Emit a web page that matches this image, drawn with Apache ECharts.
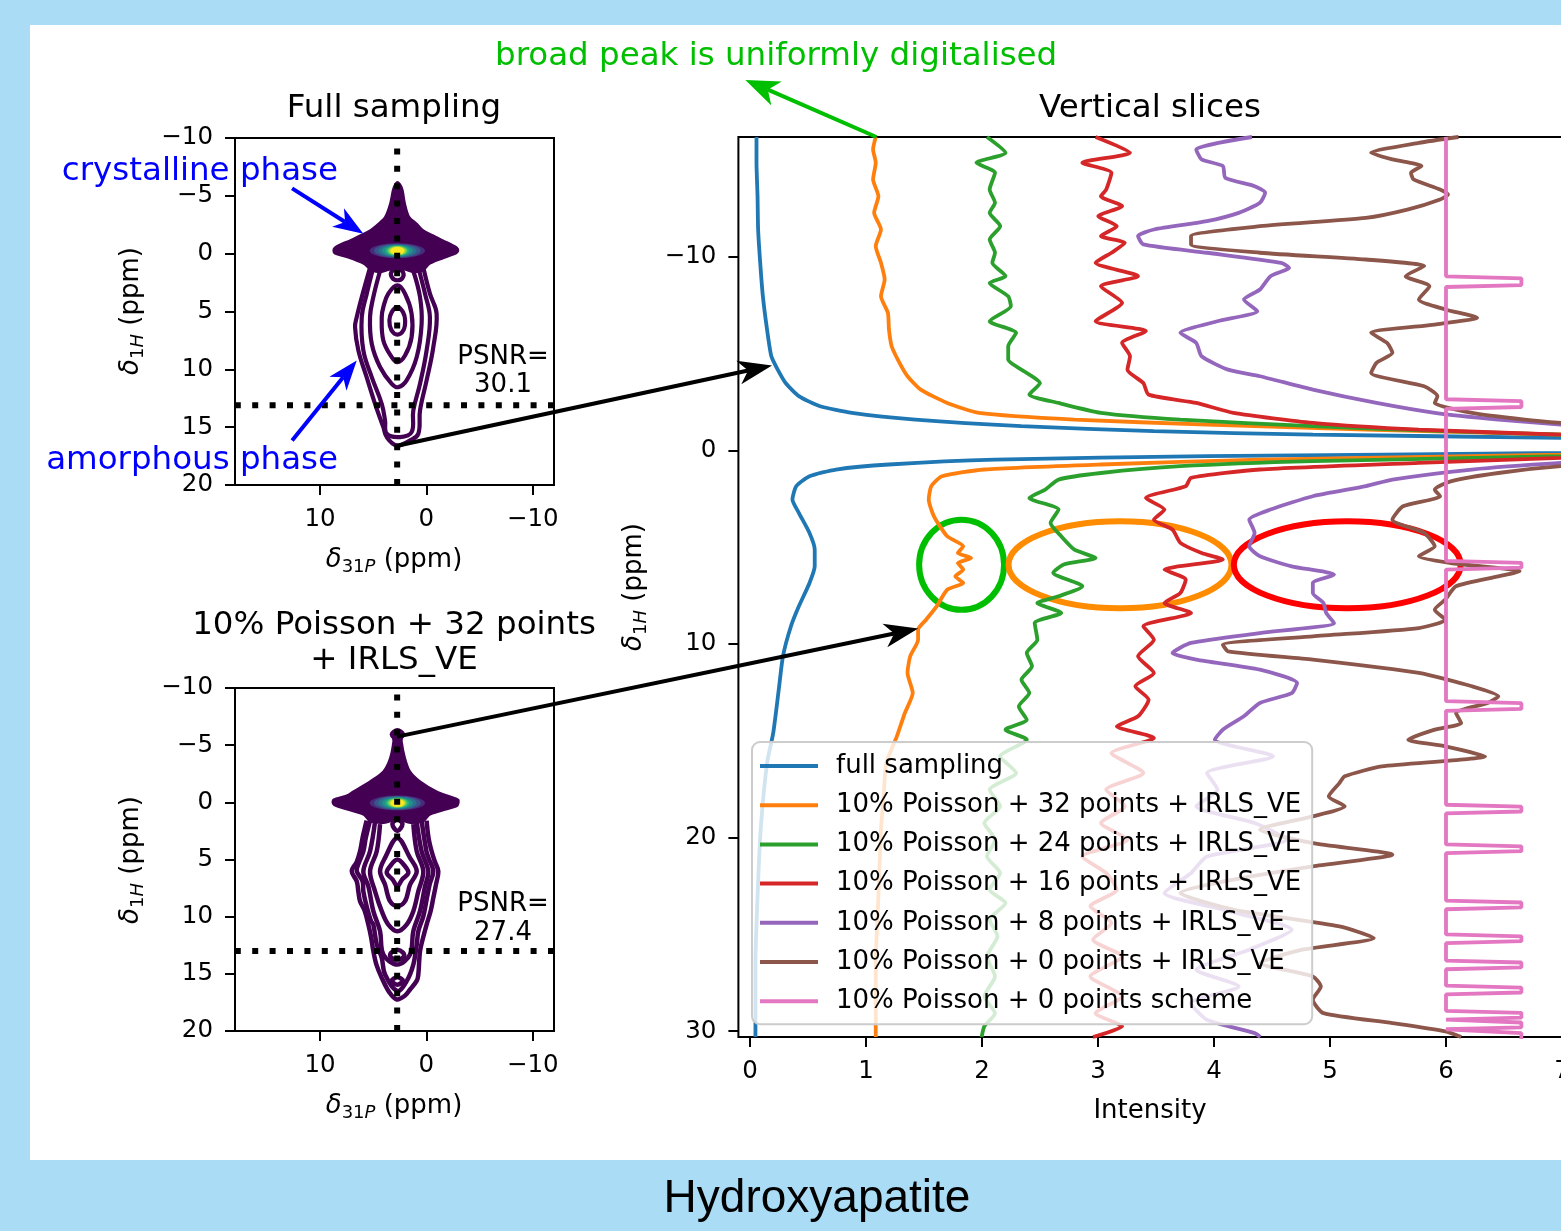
<!DOCTYPE html>
<html><head><meta charset="utf-8">
<script src="https://cdn.jsdelivr.net/npm/echarts@6/dist/echarts.min.js"></script>
<style>html,body{margin:0;padding:0;background:#aadcf5;}#c{width:1561px;height:1231px;}</style>
</head><body><div id="c"></div>
<script>
const FONT = "'DejaVu Sans', sans-serif";

// ---------- right panel: vertical slices [intensity, delta 1H ppm] ----------
const fullSampling = [[0.056,-16.2],[0.056,-14.87],[0.065,-13.14],[0.070,-11.42],[0.088,-9.70],[0.111,-7.97],[0.147,-6.25],[0.184,-4.87],[0.239,-4.18],[0.307,-3.49],[0.421,-2.81],[0.604,-2.29],[0.878,-1.95],[1.426,-1.60],[2.340,-1.26],[3.482,-1.00],[4.852,-0.82],[6.990,-0.65],[9.5,-0.25],[6.990,0.12],[3.939,0.29],[2.112,0.47],[1.198,0.72],[0.741,0.98],[0.513,1.33],[0.399,1.84],[0.366,2.53],[0.421,3.22],[0.513,4.26],[0.558,5.12],[0.558,5.98],[0.513,6.84],[0.421,8.05],[0.353,9.08],[0.284,10.63],[0.248,12.35],[0.200,14.6],[0.147,16.14],[0.092,19.59],[0.065,23.04],[0.047,26.48],[0.047,30.3]];
const poisson32 = [[1.084,-16.2],[1.061,-15.56],[1.084,-14.87],[1.061,-14.01],[1.107,-13.14],[1.070,-12.28],[1.129,-11.42],[1.084,-10.56],[1.129,-9.70],[1.161,-8.84],[1.129,-7.97],[1.189,-7.11],[1.198,-6.25],[1.221,-5.39],[1.289,-4.53],[1.358,-3.84],[1.472,-3.15],[1.700,-2.46],[1.974,-1.95],[2.797,-1.60],[3.939,-1.34],[5.309,-1.08],[6.990,-0.82],[9.5,-0.25],[6.990,0.21],[4.396,0.47],[3.025,0.72],[2.020,0.98],[1.655,1.33],[1.563,1.84],[1.541,2.53],[1.586,3.40],[1.700,4.43],[1.838,4.95],[1.792,5.29],[1.906,5.55],[1.792,5.81],[1.838,6.15],[1.770,6.50],[1.838,6.84],[1.700,7.19],[1.609,8.05],[1.518,8.74],[1.449,9.25],[1.449,9.77],[1.381,10.63],[1.358,11.49],[1.403,12.53],[1.335,13.56],[1.266,14.77],[1.175,16.14],[1.152,17.87],[1.129,19.59],[1.107,23.04],[1.084,26.48],[1.084,30.3]];
const poisson24 = [[2.043,-16.2],[2.203,-15.38],[1.952,-14.87],[2.112,-14.35],[2.066,-13.49],[2.112,-12.80],[2.066,-12.28],[2.157,-11.59],[2.066,-10.90],[2.112,-10.22],[2.089,-9.70],[2.203,-9.01],[2.066,-8.66],[2.226,-7.97],[2.249,-7.46],[2.066,-6.68],[2.294,-6.08],[2.226,-5.39],[2.226,-4.70],[2.386,-4.01],[2.500,-3.49],[2.408,-2.89],[2.660,-2.46],[3.025,-1.95],[3.710,-1.60],[4.852,-1.26],[5.994,-1.00],[6.990,-0.82],[9.5,-0.25],[6.990,0.29],[4.852,0.55],[3.710,0.81],[3.025,1.16],[2.660,1.50],[2.545,2.02],[2.408,2.45],[2.660,3.05],[2.591,3.74],[2.683,4.43],[2.797,5.12],[2.979,5.55],[2.705,5.89],[2.614,6.32],[2.865,7.01],[2.660,7.53],[2.477,7.88],[2.683,8.39],[2.454,8.91],[2.477,9.77],[2.386,10.46],[2.431,11.15],[2.340,11.84],[2.408,12.53],[2.317,13.22],[2.386,13.91],[2.203,14.42],[2.386,14.94],[2.157,15.80],[2.294,16.66],[2.066,17.52],[2.157,18.38],[2.020,19.24],[2.112,20.11],[2.043,20.97],[2.157,21.83],[2.066,22.69],[2.203,23.38],[2.066,24.24],[2.134,25.10],[2.043,26.14],[2.112,27.17],[2.020,28.20],[2.112,29.07],[2.020,29.75],[1.997,30.3]];
const poisson16 = [[2.979,-16.2],[3.276,-15.38],[2.865,-14.87],[3.116,-14.35],[3.071,-13.49],[3.025,-13.14],[3.208,-12.63],[3.002,-12.11],[3.162,-11.59],[3.025,-11.08],[3.231,-10.73],[3.116,-10.22],[2.979,-9.70],[3.345,-9.01],[3.025,-8.49],[3.208,-7.63],[2.979,-6.68],[3.413,-6.17],[3.208,-5.56],[3.276,-4.87],[3.254,-4.18],[3.391,-3.49],[3.436,-2.89],[3.847,-2.46],[4.167,-1.95],[4.852,-1.43],[5.766,-1.08],[6.990,-0.82],[9.5,-0.25],[6.990,0.38],[5.766,0.64],[4.396,0.98],[3.802,1.41],[3.756,1.84],[3.413,2.45],[3.573,3.05],[3.482,3.57],[3.642,4.08],[3.710,4.77],[3.893,5.29],[4.076,5.63],[3.573,6.15],[3.756,6.67],[3.710,7.36],[3.573,7.88],[3.802,8.39],[3.391,9.08],[3.482,9.77],[3.345,10.63],[3.482,11.49],[3.322,12.18],[3.436,12.87],[3.345,13.73],[3.162,14.25],[3.482,14.85],[3.116,15.63],[3.391,16.66],[3.071,17.52],[3.231,18.38],[3.025,19.24],[3.254,20.11],[2.865,20.97],[3.071,21.83],[3.162,22.69],[2.934,23.55],[3.116,24.41],[2.957,25.27],[3.208,26.14],[2.934,27.17],[3.208,28.20],[2.979,29.07],[3.208,29.75],[2.957,30.3]];
const poisson8 = [[4.327,-16.2],[3.847,-15.56],[3.893,-15.04],[4.076,-14.70],[4.098,-14.09],[4.350,-13.66],[4.441,-13.32],[4.396,-12.80],[4.213,-12.28],[3.939,-11.85],[3.482,-11.42],[3.345,-11.08],[3.391,-10.65],[3.939,-10.22],[4.578,-9.70],[4.647,-9.44],[4.487,-9.01],[4.396,-8.32],[4.258,-7.80],[4.373,-7.20],[4.030,-6.68],[3.710,-6.08],[3.847,-5.56],[3.893,-4.87],[4.121,-4.18],[4.396,-3.84],[4.852,-3.15],[5.401,-2.46],[5.903,-1.95],[6.451,-1.60],[6.990,-1.34],[9.5,-0.25],[6.990,0.64],[6.223,0.98],[5.538,1.50],[5.309,1.84],[4.852,2.36],[4.487,3.05],[4.304,3.57],[4.350,4.26],[4.304,4.95],[4.396,5.46],[4.670,5.98],[5.035,6.41],[4.852,6.84],[4.852,7.36],[4.944,7.88],[4.967,8.39],[5.035,8.91],[4.396,9.43],[3.802,9.94],[3.642,10.46],[3.847,10.80],[4.396,11.32],[4.716,12.01],[4.670,12.53],[4.396,13.04],[4.258,13.73],[4.076,14.42],[4.007,14.94],[4.510,15.80],[3.939,16.66],[4.030,17.52],[3.847,18.38],[4.350,19.24],[4.624,20.11],[3.939,20.97],[3.802,21.83],[3.573,22.86],[4.076,23.72],[4.670,24.76],[4.304,25.79],[3.847,26.83],[4.213,27.69],[3.802,28.55],[3.939,29.41],[4.350,30.1],[4.4,30.3]];
const poisson0 = [[6.108,-16.2],[5.766,-15.90],[5.355,-15.38],[5.538,-15.04],[5.789,-14.70],[5.698,-14.35],[5.720,-14.01],[5.949,-13.49],[6.017,-13.23],[5.949,-12.97],[5.675,-12.46],[5.309,-12.02],[4.396,-11.59],[3.802,-11.08],[3.802,-10.65],[4.396,-10.22],[5.309,-9.87],[5.812,-9.53],[5.652,-9.01],[5.857,-8.49],[5.766,-7.80],[5.994,-7.29],[6.268,-6.86],[5.903,-6.51],[5.355,-6.08],[5.492,-5.56],[5.538,-5.05],[5.401,-4.53],[5.355,-4.01],[5.812,-3.32],[5.926,-2.81],[5.903,-2.46],[6.223,-1.95],[6.680,-1.60],[6.990,-1.43],[9.5,-0.25],[6.990,0.81],[6.451,1.16],[6.040,1.59],[5.903,2.02],[5.949,2.36],[5.629,2.88],[5.538,3.57],[5.812,4.26],[5.903,4.95],[5.766,5.46],[6.040,5.81],[6.634,6.24],[6.451,6.50],[6.086,7.01],[5.994,7.70],[5.903,8.22],[5.994,8.74],[5.766,9.17],[4.852,9.60],[4.076,10.03],[4.121,10.37],[4.852,10.80],[5.766,11.49],[6.223,12.18],[6.451,12.70],[6.360,13.04],[6.086,13.56],[6.131,14.08],[5.903,14.42],[5.675,14.94],[5.994,15.28],[6.337,15.80],[5.446,16.32],[5.127,16.83],[5.081,17.18],[4.989,17.87],[5.127,18.38],[4.852,18.90],[4.396,19.59],[4.852,20.28],[5.538,20.88],[4.852,21.48],[4.167,22.17],[3.710,22.86],[4.167,23.72],[5.081,24.59],[5.378,25.19],[4.761,25.79],[4.396,26.48],[4.852,27.17],[4.921,27.69],[4.852,28.38],[4.944,29.07],[5.538,29.58],[5.994,30.01],[6.131,30.3]];
const scheme0 = [[6,-16.2],[6,-9.0],[6.65,-8.9],[6.65,-8.55],[6,-8.45],[6,-2.65],[6.65,-2.55],[6.65,-2.25],[6,-2.15],[6,5.7],[6.65,5.8],[6.65,6.05],[6,6.15],[6,12.95],[6.65,13.05],[6.65,13.35],[6,13.45],[6,18.3],[6.65,18.4],[6.65,18.65],[6,18.75],[6,20.35],[6.65,20.45],[6.65,20.7],[6,20.8],[6,23.25],[6.65,23.35],[6.65,23.6],[6,23.7],[6,25.0],[6.65,25.1],[6.65,25.35],[6,25.45],[6,26.35],[6.65,26.45],[6.65,26.7],[6,26.8],[6,27.65],[6.65,27.75],[6.65,28.0],[6,28.1],[6,28.95],[6.65,29.05],[6.65,29.3],[6,29.4],[6,29.45],[6.65,29.55],[6.65,29.8],[6,29.9],[6,30.0],[6.65,30.1],[6.65,30.4]];

const sliceNames = ['full sampling','10% Poisson + 32 points + IRLS_VE','10% Poisson + 24 points + IRLS_VE','10% Poisson + 16 points + IRLS_VE','10% Poisson + 8 points + IRLS_VE','10% Poisson + 0 points + IRLS_VE','10% Poisson + 0 points scheme'];
const sliceColors = ['#1f77b4','#ff7f0e','#2ca02c','#d62728','#9467bd','#8c564b','#e377c2'];
const sliceData = [fullSampling, poisson32, poisson24, poisson16, poisson8, poisson0, scheme0];
const intensityTicks = [0,1,2,3,4,5,6,7];
const h1TicksRight = [-10,0,10,20,30];
const p31TicksLeft = [10,0,-10];
const h1TicksLeft = [-10,-5,0,5,10,15,20];

// highlighted regions in the slice panel [intensity centre, ppm centre, intensity half-width, ppm half-height]
const highlightEllipses = [[1.824,5.9,0.366,2.33],[3.19,5.9,0.961,2.25],[5.149,5.9,0.978,2.25]];
const highlightColors = ['#00bf00','#ff8c00','#ff0000'];

// ---------- left panels: 2D spectra contours [delta 31P, delta 1H] ----------
const topStar = [[2.73,-6.2],[2.4,-5.9],[2.23,-5.48],[2.01,-4.32],[1.61,-3.17],[0.9,-2.59],[0.29,-2.01],[-0.65,-1.58],[-1.56,-1.15],[-2.22,-0.86],[-2.84,-0.56],[-3.0,-0.3],[-2.84,-0.05],[-1.9,0.29],[-0.33,0.86],[0.29,1.44],[1.2,1.6],[2.0,1.4],[2.73,1.3],[3.5,1.4],[4.3,1.6],[5.14,1.44],[5.93,0.86],[7.5,0.29],[8.6,0.0],[8.75,-0.3],[8.59,-0.56],[7.96,-0.86],[7.19,-1.15],[6.25,-1.58],[5.3,-2.01],[4.52,-2.59],[3.89,-3.17],[3.42,-4.32],[3.16,-5.48],[3.0,-5.9]];
const topC1 = [[5.30,1.2],[6.00,3.5],[6.55,5.48],[6.71,6.35],[6.40,8.36],[5.62,10.67],[4.83,12.98],[4.05,15.0],[3.73,15.86],[2.79,16.58],[1.54,16.15],[0.76,15.57],[0.60,13.55],[-0.02,10.96],[-0.65,8.08],[-0.96,5.19],[-0.33,3.46],[0.29,1.2]];
const topC2 = [[4.99,1.2],[5.62,3.5],[6.08,5.48],[5.93,8.36],[5.14,10.67],[4.20,12.98],[3.89,14.42],[3.73,15.57],[2.48,15.86],[1.39,15.43],[1.23,13.55],[0.60,11.25],[-0.02,8.36],[-0.33,5.48],[0.13,3.46],[0.76,1.2]];
const topC3 = [[4.36,1.5],[4.99,3.75],[5.30,5.48],[5.14,7.79],[4.36,9.80],[3.26,11.25],[2.64,11.54],[1.86,10.96],[0.91,8.94],[0.45,6.06],[0.60,3.75],[1.23,1.5]];
const topC4 = [[2.73,2.74],[3.58,3.46],[4.05,4.62],[4.20,5.48],[4.05,7.50],[3.26,8.94],[2.73,9.38],[2.01,8.80],[1.39,7.21],[1.39,5.19],[2.01,3.46]];
const topC5 = [[2.73,4.62],[3.26,5.05],[3.48,5.77],[3.3,6.6],[2.73,7.0],[2.15,6.6],[2.0,5.77],[2.2,5.05]];
const topLoop = [[2.73,1.3],[3.3,1.6],[3.2,2.1],[2.73,2.3],[2.25,2.1],[2.2,1.6]];
const topRings = [[2.73,-0.25,2.6,0.65],[2.73,-0.25,2.2,0.6],[2.73,-0.25,1.8,0.55],[2.73,-0.25,1.45,0.5],[2.73,-0.25,1.15,0.45],[2.73,-0.25,0.95,0.41],[2.73,-0.25,0.8,0.37],[2.73,-0.25,0.65,0.33]];

const bottomStar = [[2.73,-6.1],[2.3,-5.85],[2.32,-5.33],[2.01,-3.88],[1.54,-2.71],[0.6,-1.84],[-0.96,-0.96],[-2.3,-0.5],[-3.0,-0.23],[-3.0,0.15],[-2.84,0.35],[-0.34,1.08],[0.29,1.66],[1.5,1.8],[2.73,1.5],[4.0,1.8],[5.3,1.66],[5.93,1.08],[8.43,0.35],[8.8,0.1],[8.75,-0.23],[7.5,-0.6],[6.87,-0.96],[5.3,-1.84],[4.05,-2.71],[3.42,-3.88],[3.11,-5.33],[3.15,-5.85]];
const bottomD1 = [[5.62,1.6],[6.0,3.1],[6.24,4.28],[6.55,5.2],[7.02,6.03],[6.55,6.9],[6.4,7.8],[6.24,8.65],[5.8,9.5],[5.46,10.69],[5.2,11.8],[4.99,13.02],[4.7,14.2],[4.2,15.35],[3.5,16.6],[2.79,17.24],[2.0,16.9],[1.54,16.37],[0.9,15.6],[0.76,15.06],[0.60,13.02],[0.3,11.8],[-0.02,10.69],[-0.4,9.5],[-0.65,8.36],[-0.9,7.2],[-1.12,6.03],[-0.8,5.2],[-0.49,4.28],[-0.2,3.1],[-0.02,1.6]];
const bottomD2 = [[5.30,1.6],[5.7,3.1],[5.93,4.28],[6.4,5.4],[6.55,6.03],[6.0,6.9],[5.93,7.78],[5.62,9.09],[5.2,10.4],[4.99,10.69],[4.67,12.44],[4.2,13.6],[3.89,15.06],[2.73,16.51],[1.86,15.64],[1.23,14.19],[0.91,12.44],[0.76,11.27],[0.3,10.0],[-0.02,8.5],[-0.3,7.2],[-0.65,6.03],[-0.2,4.86],[0.0,4.28],[0.45,1.6]];
const bottomD3 = [[4.83,1.7],[5.30,4.28],[5.93,6.03],[5.46,7.34],[4.99,9.52],[4.36,11.27],[4.05,13.31],[2.73,14.19],[1.54,13.31],[1.23,11.27],[0.60,9.52],[0.13,7.34],[-0.18,6.03],[0.45,4.28],[0.91,1.7]];
const bottomD4 = [[4.36,1.9],[4.67,4.28],[5.30,6.03],[4.83,7.78],[4.20,9.52],[3.58,10.69],[2.73,11.27],[1.86,10.69],[1.23,9.52],[0.76,7.78],[0.29,6.03],[0.91,4.28],[1.23,1.9]];
const bottomD5 = [[2.73,3.11],[3.89,4.86],[4.36,6.03],[3.89,7.20],[3.42,8.65],[2.73,9.09],[2.01,8.65],[1.54,7.20],[0.91,6.03],[1.54,4.86]];
const bottomD6 = [[2.73,5.01],[3.42,5.59],[3.73,6.18],[3.17,6.76],[2.73,7.34],[2.29,6.76],[1.70,6.18],[2.01,5.59]];
const bottomD7 = [[2.73,12.9],[3.3,13.15],[3.4,13.5],[2.73,13.75],[2.1,13.5],[2.2,13.15]];
const bottomD8 = [[2.73,15.3],[3.25,15.6],[2.73,15.95],[2.2,15.6]];
const bottomLoop = [[2.73,1.5],[3.2,1.9],[2.73,2.5],[2.25,1.9]];
const bottomKnob = [[2.73,-6.3],[3.25,-5.95],[2.73,-5.55],[2.2,-5.95]];
const bottomRings = [[2.73,0.05,2.6,0.65],[2.73,0.05,2.2,0.6],[2.73,0.05,1.8,0.55],[2.73,0.05,1.45,0.5],[2.73,0.05,1.15,0.45],[2.73,0.05,0.95,0.41],[2.73,0.05,0.8,0.37],[2.73,0.05,0.65,0.33]];
const ringColors = ['#472c7a','#3b528b','#2c728e','#21918c','#28ae80','#5ec962','#addc30','#fde725'];

// slice positions drawn as dotted lines
const topVerticalCut = [[2.75,20],[2.75,-10]];
const topHorizontalCut = [[-12,13.1],[18,13.1]];
const bottomVerticalCut = [[2.75,20],[2.75,-10]];
const bottomHorizontalCut = [[-12,13.0],[18,13.0]];

const fmt = v => (v < 0 ? '\u2212' + Math.abs(v) : String(v));

function grid(l, t, w, h) {
  return {left: l, top: t, width: w, height: h, show: true, borderColor: '#000', borderWidth: 2,
    backgroundColor: 'rgba(0,0,0,0)', containLabel: false, outerBoundsMode: 'none'};
}
function axis(gi, min, max, inverse, ticks) {
  return {gridIndex: gi, type: 'value', min: min, max: max, inverse: inverse,
    axisLine: {show: false, onZero: false}, splitLine: {show: false},
    axisTick: {show: true, inside: false, length: 10, customValues: ticks, lineStyle: {color: '#000', width: 2}},
    axisLabel: {show: true, customValues: ticks, margin: 22, color: '#000', fontFamily: FONT, fontSize: 24.5, formatter: fmt}};
}
function shapeSeries(gi, pts, o) {
  return {type: 'custom', xAxisIndex: gi, yAxisIndex: gi, silent: true, z: o.z || 2, data: pts,
    renderItem: function (params, api) {
      if (params.dataIndex !== 0) return null;
      const coords = [];
      for (let i = 0; i < params.dataInsideLength; i++) coords.push(api.coord([api.value(0, i), api.value(1, i)]));
      return {type: o.closed ? 'polygon' : 'polyline', shape: {points: coords, smooth: o.smooth || 0},
        style: {fill: o.fill || 'none', stroke: o.stroke || 'none', lineWidth: o.lw || 0}};
    }};
}
function ellipseSeries(gi, rows, colors, o) {
  return {type: 'custom', xAxisIndex: gi, yAxisIndex: gi, silent: true, z: o.z || 2, data: rows,
    renderItem: function (params, api) {
      const c = api.coord([api.value(0), api.value(1)]);
      const s = api.size([api.value(2), api.value(3)], [api.value(0), api.value(1)]);
      const col = colors[params.dataIndex];
      return {type: 'ellipse', shape: {cx: c[0], cy: c[1], rx: Math.abs(s[0]), ry: Math.abs(s[1])},
        style: o.stroke ? {fill: 'none', stroke: col, lineWidth: o.lw} : {fill: col}};
    }};
}
function cutSeries(gi, pts) {
  return {type: 'line', xAxisIndex: gi, yAxisIndex: gi, data: pts, symbol: 'none', silent: true, z: 3,
    lineStyle: {color: '#000', width: 6, type: [6, 11.4], cap: 'butt'}};
}

const series = [];
// top-left spectrum
[topC1, topC2, topC3].forEach(c => series.push(shapeSeries(0, c, {closed: false, stroke: '#440154', lw: 4.2, smooth: 0.4})));
[topC4, topC5, topLoop].forEach(c => series.push(shapeSeries(0, c, {closed: true, stroke: '#440154', lw: 4.2, smooth: 0.4})));
series.push(shapeSeries(0, topStar, {closed: true, fill: '#440154', stroke: '#440154', lw: 2, smooth: 0.3}));
series.push(ellipseSeries(0, topRings, ringColors, {}));
series.push(cutSeries(0, topVerticalCut));
series.push(cutSeries(0, topHorizontalCut));
// bottom-left spectrum
[bottomD1, bottomD2, bottomD3, bottomD4].forEach(c => series.push(shapeSeries(1, c, {closed: false, stroke: '#440154', lw: 4.5, smooth: 0.35})));
[bottomD5, bottomD6, bottomD7, bottomD8, bottomLoop, bottomKnob].forEach(c => series.push(shapeSeries(1, c, {closed: true, stroke: '#440154', lw: 4.5, smooth: 0.35})));
series.push(shapeSeries(1, bottomStar, {closed: true, fill: '#440154', stroke: '#440154', lw: 2, smooth: 0.3}));
series.push(ellipseSeries(1, bottomRings, ringColors, {}));
series.push(cutSeries(1, bottomVerticalCut));
series.push(cutSeries(1, bottomHorizontalCut));
// vertical slices
sliceData.forEach((d, i) => series.push({type: 'line', name: sliceNames[i], xAxisIndex: 2, yAxisIndex: 2, data: d,
  symbol: 'none', color: sliceColors[i], smooth: i === 6 ? false : 0.2, clip: true, silent: true,
  lineStyle: {color: sliceColors[i], width: 3.8}}));
series.push(ellipseSeries(2, highlightEllipses, highlightColors, {stroke: true, lw: 6, z: 3}));

const option = {
  animation: false,
  backgroundColor: '#aadcf5',
  grid: [grid(235, 138, 319, 347), grid(235, 688, 319, 343), grid(738.4, 137, 823.6, 900)],
  xAxis: [axis(0, -12, 18, true, p31TicksLeft), axis(1, -12, 18, true, p31TicksLeft), axis(2, -0.1, 7, false, intensityTicks)],
  yAxis: [axis(0, -10, 20, true, h1TicksLeft), axis(1, -10, 20, true, h1TicksLeft), axis(2, -16.2, 30.3, true, h1TicksRight)],
  legend: {data: sliceNames, orient: 'vertical', left: 752, top: 742, padding: [9, 11, 8, 8],
    itemWidth: 58, itemHeight: 4, itemGap: 9.2, icon: 'rect', selectedMode: false,
    backgroundColor: 'rgba(255,255,255,0.8)', borderColor: '#cccccc', borderWidth: 2, borderRadius: 8, z: 10,
    textStyle: {fontFamily: FONT, fontSize: 26, color: '#000', lineHeight: 30, padding: [0, 0, 0, 13]}},
  series: series
};

const chart = echarts.init(document.getElementById('c'), null, {renderer: 'canvas', width: 1561, height: 1231});
chart.setOption(option);

// ---------- annotations ----------
const P = (gi, v) => chart.convertToPixel({gridIndex: gi}, v);
function arrow(p0, p1, color, lw, L, W) {
  const dx = p1[0] - p0[0], dy = p1[1] - p0[1], len = Math.hypot(dx, dy);
  const ux = dx / len, uy = dy / len, nx = -uy, ny = ux;
  const notch = [p1[0] - ux * L * 0.72, p1[1] - uy * L * 0.72];
  return [
    {type: 'line', z: 100, silent: true, shape: {x1: p0[0], y1: p0[1], x2: notch[0], y2: notch[1]}, style: {stroke: color, lineWidth: lw}},
    {type: 'polygon', z: 100, silent: true, shape: {points: [p1, [p1[0] - ux * L + nx * W / 2, p1[1] - uy * L + ny * W / 2], notch, [p1[0] - ux * L - nx * W / 2, p1[1] - uy * L - ny * W / 2]]}, style: {fill: color}}
  ];
}
function txt(x, y, text, size, color, align, family) {
  return {type: 'text', x: x, y: y, z: 50, silent: true,
    style: {text: text, fontFamily: family || FONT, fontSize: size, fill: color || '#000', align: align || 'center', verticalAlign: 'middle'}};
}
const rich = {
  d: {fontFamily: FONT, fontSize: 26, fontStyle: 'italic', lineHeight: 32, verticalAlign: 'middle'},
  s: {fontFamily: FONT, fontSize: 18, lineHeight: 14, verticalAlign: 'bottom'},
  si: {fontFamily: FONT, fontSize: 18, fontStyle: 'italic', lineHeight: 14, verticalAlign: 'bottom'},
  n: {fontFamily: FONT, fontSize: 26, lineHeight: 32, verticalAlign: 'middle'}
};
const dLabel = (num, el) => '{d|δ}{s|' + num + '}{si|' + el + '}{n| (ppm)}';
function richTxt(x, y, text, rot) {
  return {type: 'text', x: x, y: y, z: 50, silent: true, rotation: rot || 0,
    style: {text: text, rich: rich, fill: '#000', fontFamily: FONT, fontSize: 26, align: 'center', verticalAlign: 'middle'}};
}

const g = [];
g.push({type: 'rect', z: -100, silent: true, shape: {x: 30, y: 25, width: 1531, height: 1135}, style: {fill: '#ffffff'}});
g.push(txt(394, 109, 'Full sampling', 32.5));
g.push(txt(394, 626, '10% Poisson + 32 points', 32.5));
g.push(txt(394, 661, '+ IRLS_VE', 32.5));
g.push(txt(1150, 109, 'Vertical slices', 32.5));
g.push(richTxt(394, 560, dLabel('31', 'P')));
g.push(richTxt(394, 1106, dLabel('31', 'P')));
g.push(richTxt(131, 311, dLabel('1', 'H'), Math.PI / 2));
g.push(richTxt(131, 860, dLabel('1', 'H'), Math.PI / 2));
g.push(richTxt(634, 587, dLabel('1', 'H'), Math.PI / 2));
g.push(txt(1150, 1111, 'Intensity', 26));
g.push(txt(503, 357, 'PSNR=', 26));
g.push(txt(503, 385, '30.1', 26));
g.push(txt(503, 904, 'PSNR=', 26));
g.push(txt(503, 933, '27.4', 26));
g.push(txt(338, 172, 'crystalline phase', 32.5, '#0000ff', 'right'));
g.push(txt(338, 461, 'amorphous phase', 32.5, '#0000ff', 'right'));
g.push(txt(495, 57, 'broad peak is uniformly digitalised', 32.5, '#00bf00', 'left'));
g.push(txt(817, 1199, 'Hydroxyapatite', 46, '#000', 'center', "'Liberation Sans', Arial, sans-serif"));

arrow(P(0, [12.63, -5.65]), P(0, [5.93, -1.73]), '#0000ff', 4, 30, 22).forEach(e => g.push(e));
arrow(P(0, [12.63, 16.15]), P(0, [6.55, 9.23]), '#0000ff', 4, 30, 22).forEach(e => g.push(e));
arrow(P(0, [2.75, 16.6]), P(2, [0.19, -4.4]), '#000000', 4, 34, 24).forEach(e => g.push(e));
arrow(P(1, [2.75, -5.75]), P(2, [1.45, 9.2]), '#000000', 4, 34, 24).forEach(e => g.push(e));
arrow(P(2, [1.09, -16.2]), P(2, [-0.04, -19.15]), '#00bf00', 4, 34, 26).forEach(e => g.push(e));

chart.setOption({graphic: g});
</script></body></html>
